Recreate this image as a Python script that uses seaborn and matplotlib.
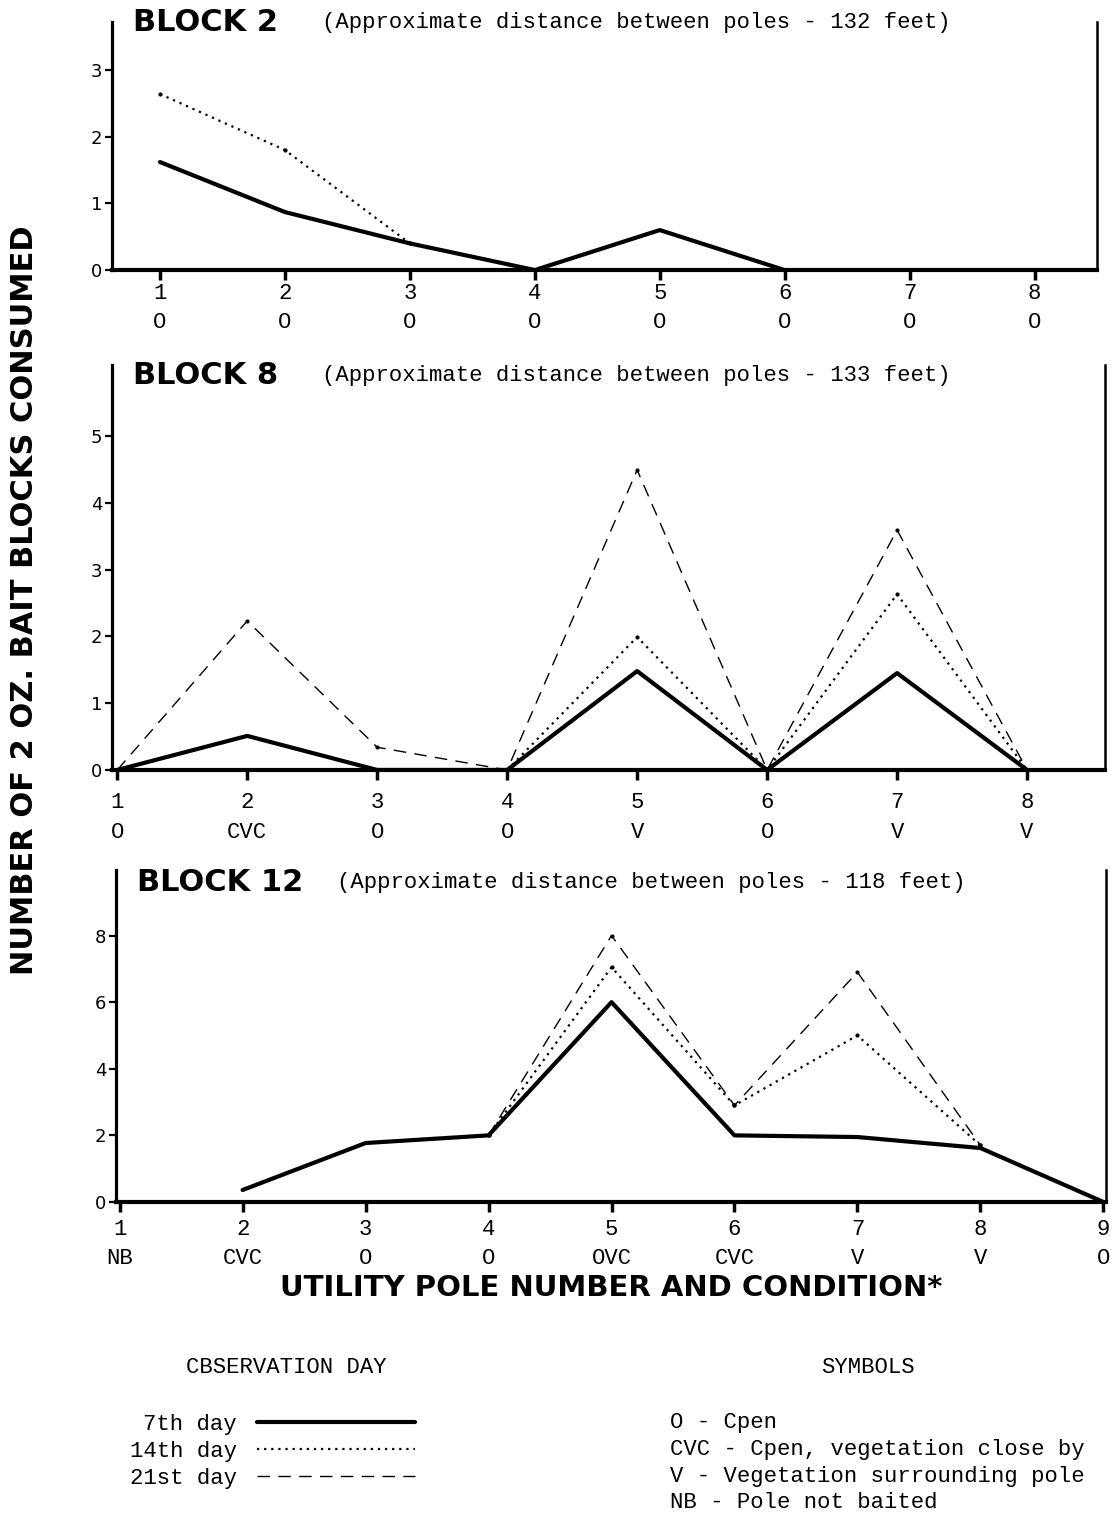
"""Bait block consumption along utility poles, three city blocks."""

import matplotlib

matplotlib.use("Agg")

import matplotlib.pyplot as plt
from matplotlib.lines import Line2D
import seaborn as sns

# ---- data ----
B2_POLES = [1, 2, 3, 4, 5, 6, 7, 8]
B2_COND = ["O", "O", "O", "O", "O", "O", "O", "O"]
B2_DAY7 = [1.62, 0.87, 0.40, 0.0, 0.60, 0.0, 0.0, 0.0]
B2_DAY14_POLES = [1, 2, 3]
B2_DAY14 = [2.64, 1.80, 0.40]

B8_POLES = [1, 2, 3, 4, 5, 6, 7, 8]
B8_COND = ["O", "CVC", "O", "O", "V", "O", "V", "V"]
B8_DAY7 = [0.0, 0.51, 0.0, 0.0, 1.48, 0.0, 1.45, 0.0]
B8_DAY14_POLES = [4, 5, 6, 7, 8]
B8_DAY14 = [0.0, 1.99, 0.0, 2.63, 0.0]
B8_DAY21 = [0.0, 2.23, 0.34, 0.0, 4.49, 0.0, 3.59, 0.0]

B12_POLES = [1, 2, 3, 4, 5, 6, 7, 8, 9]
B12_COND = ["NB", "CVC", "O", "O", "OVC", "CVC", "V", "V", "O"]
B12_DAY7_POLES = [2, 3, 4, 5, 6, 7, 8, 9]
B12_DAY7 = [0.36, 1.77, 2.0, 6.0, 2.0, 1.95, 1.62, 0.0]
B12_LATE_POLES = [4, 5, 6, 7, 8]
B12_DAY14 = [2.0, 7.05, 2.9, 5.0, 1.7]
B12_DAY21 = [2.0, 8.0, 2.9, 6.9, 1.7]

BLOCK_DISTANCE = ["132", "133", "118"]

MONO = ["Liberation Mono", "DejaVu Sans Mono"]
HEAVY = ["DejaVu Sans"]

STYLE = {
    "7th day": dict(linestyle="-", linewidth=3.0),
    "14th day": dict(linestyle=(0, (1, 2.2)), linewidth=1.6),
    "21st day": dict(linestyle=(0, (9, 6)), linewidth=1.0),
}
VERTEX = dict(marker="o", markersize=3, markeredgecolor="black", markeredgewidth=0)


def draw_series(ax, x, y, day):
    extra = VERTEX if day != "7th day" else {}
    sns.lineplot(x=x, y=y, ax=ax, color="black", **STYLE[day], **extra)


def style_axis(ax, poles, cond, xlim, ylim, yticks, xpad):
    ax.set_xlim(*xlim)
    ax.set_ylim(*ylim)
    ax.set_yticks(yticks)
    ax.set_yticklabels([str(t) for t in yticks], fontsize=13)
    ax.set_xticks(poles)
    labels = ax.set_xticklabels(
        [f"{p}\n{c}" for p, c in zip(poles, cond)], family=MONO, fontsize=16
    )
    for lab in labels:
        lab.set_linespacing(1.55)
    ax.spines["top"].set_visible(False)
    ax.spines["left"].set_linewidth(2.3)
    ax.spines["bottom"].set_linewidth(3.0)
    ax.spines["right"].set_linewidth(1.8)
    ax.tick_params(axis="x", length=7, width=2.5, pad=xpad, direction="out")
    ax.tick_params(axis="y", length=5, width=1.6, pad=2, direction="out")
    ax.set_xlabel("")
    ax.set_ylabel("")
    ax.grid(False)


sns.set_theme(style="ticks")
plt.rcParams.update(
    {
        "font.family": ["DejaVu Sans"],
        "axes.edgecolor": "black",
        "text.color": "black",
        "xtick.color": "black",
        "ytick.color": "black",
        "axes.labelcolor": "black",
    }
)

fig = plt.figure(figsize=(11.16, 15.19), dpi=100)
ax1 = fig.add_axes([0.1004, 0.8222, 0.8826, 0.1633])
ax2 = fig.add_axes([0.1004, 0.4931, 0.8898, 0.2666])
ax3 = fig.add_axes([0.1039, 0.2087, 0.8870, 0.2186])

# Block 2
draw_series(ax1, B2_POLES, B2_DAY7, "7th day")
draw_series(ax1, B2_DAY14_POLES, B2_DAY14, "14th day")
style_axis(ax1, B2_POLES, B2_COND, (0.616, 8.5), (0, 3.72), [0, 1, 2, 3], 2)

# Block 8
draw_series(ax2, B8_POLES, B8_DAY7, "7th day")
draw_series(ax2, B8_DAY14_POLES, B8_DAY14, "14th day")
draw_series(ax2, B8_POLES, B8_DAY21, "21st day")
style_axis(ax2, B8_POLES, B8_COND, (0.96, 8.6), (0, 6.06), [0, 1, 2, 3, 4, 5], 9)

# Block 12
draw_series(ax3, B12_DAY7_POLES, B12_DAY7, "7th day")
draw_series(ax3, B12_LATE_POLES, B12_DAY14, "14th day")
draw_series(ax3, B12_LATE_POLES, B12_DAY21, "21st day")
style_axis(ax3, B12_POLES, B12_COND, (0.97, 9.02), (0, 9.97), [0, 2, 4, 6, 8], 5)

# block titles
title_pos = [(0.1192, 0.2885, 0.9849), (0.1192, 0.2885, 0.7525), (0.1228, 0.3020, 0.4187)]
for name, dist, (xb, xp, yt) in zip(["2", "8", "12"], BLOCK_DISTANCE, title_pos):
    fig.text(xb, yt, f"BLOCK {name}", family=HEAVY, fontweight="bold",
             fontsize=22, va="center", ha="left")
    fig.text(xp, yt, f"(Approximate distance between poles - {dist} feet)",
             family=MONO, fontsize=16, va="center", ha="left")

fig.text(0.0224, 0.605, "NUMBER OF 2 OZ. BAIT BLOCKS CONSUMED", rotation=90,
         family=HEAVY, fontweight="bold", fontsize=22,
         va="center", ha="center")
fig.text(0.5475, 0.152, "UTILITY POLE NUMBER AND CONDITION*", family=HEAVY,
         fontweight="bold", fontsize=21, va="center", ha="center")

# legend block
fig.text(0.2563, 0.1000, "CBSERVATION DAY", family=MONO, fontsize=16,
         va="center", ha="center")
fig.text(0.7778, 0.1000, "SYMBOLS", family=MONO, fontsize=16,
         va="center", ha="center")

handles = [Line2D([], [], color="black", **STYLE[d]) for d in STYLE]
fig.legend(handles, list(STYLE), loc="upper left", bbox_to_anchor=(0.1165, 0.0691),
           markerfirst=False, frameon=False, handlelength=7.1, handletextpad=0.9,
           labelspacing=0.26, borderpad=0, borderaxespad=0,
           prop={"family": MONO, "size": 16})

fig.text(0.600, 0.0704,
         "O - Cpen\nCVC - Cpen, vegetation close by\n"
         "V - Vegetation surrounding pole\nNB - Pole not baited",
         family=MONO, fontsize=16, va="top", ha="left", linespacing=1.36)

fig.savefig("out.png", dpi=100)
